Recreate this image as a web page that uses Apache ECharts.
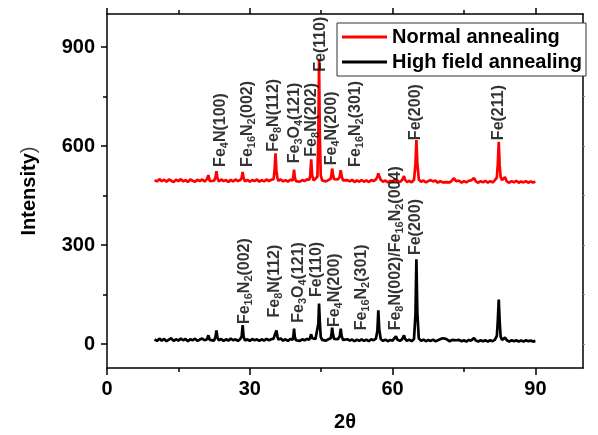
<!DOCTYPE html>
<html>
<head>
<meta charset="utf-8">
<script src="https://cdn.jsdelivr.net/npm/echarts@6.0.0/dist/echarts.min.js"></script>
<style>
html,body{margin:0;padding:0;background:#fff;}
#chart{width:598px;height:435px;}
</style>
</head>
<body>
<div id="chart"></div>
<script>
// 2-theta sampling positions (degrees)
const twoTheta = [
  10, 10.5, 11, 11.5, 12, 12.5, 13, 13.5, 14, 14.5,
  15, 15.5, 16, 16.5, 17, 17.5, 18, 18.5, 19, 19.5,
  20, 20.5, 21, 21.3, 21.6, 22, 22.5, 22.8, 23.0, 23.2,
  23.5, 24, 24.5, 25, 25.5, 26, 26.5, 27, 27.5, 28,
  28.3, 28.5, 28.7, 29, 29.5, 30, 30.5, 31, 31.5, 32,
  32.5, 33, 33.5, 34, 34.5, 35, 35.2, 35.4, 35.6, 35.8,
  36, 36.5, 37, 37.5, 38, 38.5, 39, 39.15, 39.3, 39.45,
  39.7, 40, 40.5, 41, 41.5, 42, 42.5, 42.7, 42.9, 43.1,
  43.4, 43.8, 44.2, 44.4, 44.55, 44.7, 44.9, 45.2, 45.5, 46,
  46.5, 47, 47.15, 47.3, 47.45, 47.7, 48, 48.5, 48.9, 49.1,
  49.3, 49.6, 50, 50.5, 51, 51.5, 52, 52.5, 53, 53.5,
  54, 54.5, 55, 55.5, 56, 56.5, 56.8, 57.0, 57.2, 57.5,
  58, 58.5, 59, 59.5, 60, 60.4, 60.7, 61.0, 61.5, 62,
  62.2, 62.4, 62.6, 63, 63.5, 64, 64.5, 64.8, 65.0, 65.2,
  65.5, 66, 66.5, 67, 67.5, 68, 68.5, 69, 69.5, 70,
  70.5, 70.8, 71.2, 71.5, 72, 72.5, 72.9, 73.3, 73.5, 74,
  74.5, 75, 75.5, 76, 76.5, 77.1, 77.5, 78, 78.5, 79,
  79.5, 80, 80.5, 81, 81.5, 81.9, 82.1, 82.3, 82.5, 82.7,
  83, 83.3, 83.6, 84, 84.5, 85, 85.5, 86, 86.5, 87,
  87.5, 88, 88.5, 89, 89.5, 90
];
// Normal annealing intensity (red)
const normalI = [
  497, 493, 500, 494, 498, 492, 499, 495, 491, 498,
  494, 500, 493, 497, 491, 499, 495, 492, 498, 494,
  499, 493, 500, 512, 494, 498, 495, 506, 524, 503,
  493, 499, 494, 497, 491, 498, 493, 499, 494, 497,
  504, 522, 502, 493, 498, 492, 497, 494, 499, 492,
  497, 493, 499, 494, 498, 500, 526, 578, 524, 504,
  495, 499, 493, 497, 492, 498, 496, 507, 529, 505,
  494, 498, 492, 497, 494, 499, 498, 512, 560, 511,
  496, 500, 507, 630, 860, 640, 512, 496, 499, 493,
  497, 501, 514, 532, 516, 500, 494, 499, 507, 527,
  508, 496, 492, 497, 493, 498, 491, 496, 492, 497,
  492, 496, 491, 497, 494, 499, 507, 517, 509, 498,
  492, 496, 490, 495, 492, 499, 502, 495, 491, 497,
  501, 509, 499, 491, 495, 490, 498, 545, 618, 548,
  499, 492, 496, 490, 494, 497, 493, 496, 489, 494,
  490, 495, 491, 496, 490, 496, 503, 494, 490, 495,
  489, 494, 490, 495, 496, 503, 493, 489, 494, 490,
  495, 489, 494, 490, 497, 505, 545, 613, 540, 506,
  497, 500, 506, 493, 489, 494, 490, 495, 489, 493,
  490, 494, 489, 493, 490, 492
];
// High field annealing intensity (black)
const highFieldI = [
  15, 10, 17, 11, 16, 9, 14, 18, 10, 15,
  11, 17, 12, 16, 9, 15, 12, 17, 10, 14,
  17, 12, 15, 27, 13, 16, 11, 22, 42, 20,
  12, 16, 10, 15, 11, 17, 12, 15, 10, 16,
  24, 58, 22, 11, 15, 10, 16, 12, 15, 10,
  15, 11, 16, 12, 15, 17, 26, 34, 42, 24,
  14, 17, 11, 15, 10, 16, 14, 24, 47, 22,
  12, 16, 10, 15, 12, 16, 14, 19, 30, 18,
  12, 16, 20, 62, 123, 70, 22, 13, 16, 11,
  15, 18, 30, 50, 32, 16, 11, 15, 24, 47,
  24, 13, 10, 15, 11, 14, 9, 14, 10, 15,
  10, 14, 9, 15, 12, 17, 40, 103, 45, 16,
  10, 14, 9, 13, 11, 17, 24, 14, 10, 15,
  19, 27, 17, 10, 14, 9, 16, 90, 257, 95,
  18, 10, 14, 9, 13, 10, 14, 9, 12, 15,
  18, 21, 16, 12, 9, 13, 18, 12, 9, 13,
  9, 12, 8, 13, 11, 19, 11, 8, 12, 9,
  12, 8, 12, 9, 14, 25, 70, 135, 68, 22,
  13, 15, 20, 12, 8, 12, 9, 12, 8, 11,
  8, 12, 9, 11, 8, 10
];
// Peak annotations: "_n" marks a subscript
const redLabelText  = ['Fe_4N(100)', 'Fe_16N_2(002)', 'Fe_8N(112)', 'Fe_3O_4(121)', 'Fe_8N(202)', 'Fe(110)', 'Fe_4N(200)', 'Fe_16N_2(301)', 'Fe(200)', 'Fe(211)'];
const redLabelTheta = [23.9, 29.7, 35.0, 39.5, 43.0, 44.9, 47.2, 52.3, 65.0, 82.4];
const redLabelI     = [537, 537, 583, 548, 568, 825, 542, 537, 618, 618];
const blackLabelText  = ['Fe_16N_2(002)', 'Fe_8N(112)', 'Fe_3O_4(121)', 'Fe(110)', 'Fe_4N(200)', 'Fe_16N_2(301)', 'Fe_8N(002)/Fe_16N_2(004)', 'Fe(200)'];
const blackLabelTheta = [29.0, 35.3, 40.4, 44.1, 47.9, 53.5, 60.7, 65.0];
const blackLabelI     = [61, 81, 65, 143, 52, 42, 42, 270];

const xMajor = [0, 30, 60, 90];
const xMinor = [15, 45, 75];
const yMajor = [0, 300, 600, 900];
const yMinor = [150, 450, 750];
const seriesNames = ['Normal annealing', 'High field annealing'];

if (twoTheta.length !== normalI.length || twoTheta.length !== highFieldI.length) {
  console.error('length mismatch', twoTheta.length, normalI.length, highFieldI.length);
}

const FONT = '"Liberation Sans", Arial, sans-serif';
function toRich(s) {
  return '{n|' + s.replace(/_(\d+)/g, '}{s|$1}{n|') + '}';
}
const rich = {
  n: {fontSize: 16, fontWeight: 'bold', fontFamily: FONT, color: '#000', lineHeight: 17, verticalAlign: 'top'},
  s: {fontSize: 11, fontWeight: 'bold', fontFamily: FONT, color: '#000', lineHeight: 11, padding: [7, 0, 0, 0], verticalAlign: 'top'}
};
function labelSeries(texts, th, ii) {
  const richTexts = texts.map(toRich);
  return {
    type: 'scatter',
    data: th.map((t, i) => [t, ii[i]]),
    symbol: 'circle',
    symbolSize: 0.1,
    itemStyle: {color: 'transparent'},
    silent: true,
    z: 10,
    label: {
      show: true,
      position: 'inside',
      rotate: 90,
      align: 'left',
      verticalAlign: 'middle',
      formatter: p => richTexts[p.dataIndex],
      rich: rich
    }
  };
}

const axisLineStyle = {color: '#000', width: 1.5};
const tickStyle = {color: '#000', width: 1.5};
const chart = echarts.init(document.getElementById('chart'), null, {renderer: 'canvas'});
chart.setOption({
  animation: false,
  backgroundColor: '#fff',
  grid: {left: 107, right: 15, top: 14, bottom: 67, outerBoundsMode: 'none'},
  legend: {
    data: seriesNames,
    orient: 'vertical',
    left: 337, top: 23,
    padding: [3, 4, 3, 5],
    itemGap: 3,
    itemWidth: 45, itemHeight: 3,
    icon: 'rect',
    selectedMode: false,
    backgroundColor: '#fff',
    borderColor: '#333', borderWidth: 1,
    textStyle: {fontSize: 20, fontWeight: 'bold', fontFamily: FONT, color: '#000', lineHeight: 22}
  },
  xAxis: [
    {type: 'value', min: 0, max: 100, position: 'bottom',
     axisLine: {show: true, onZero: false, lineStyle: axisLineStyle},
     axisTick: {show: true, customValues: xMajor, length: 7, lineStyle: tickStyle},
     axisLabel: {customValues: xMajor, margin: 11, fontSize: 20, fontWeight: 'bold', fontFamily: FONT, color: '#000'},
     splitLine: {show: false},
     name: '2θ', nameLocation: 'middle', nameGap: 44,
     nameTextStyle: {fontSize: 20, fontWeight: 'bold', fontFamily: FONT, color: '#000'}},
    {type: 'value', min: 0, max: 100, position: 'bottom',
     axisLine: {show: false, onZero: false},
     axisTick: {show: true, customValues: xMinor, length: 4, lineStyle: tickStyle},
     axisLabel: {show: false}, splitLine: {show: false}},
    {type: 'value', min: 0, max: 100, position: 'top',
     axisLine: {show: true, onZero: false, lineStyle: axisLineStyle},
     axisTick: {show: true, customValues: xMajor, length: 6, lineStyle: tickStyle},
     axisLabel: {show: false}, splitLine: {show: false}},
    {type: 'value', min: 0, max: 100, position: 'top',
     axisLine: {show: false, onZero: false},
     axisTick: {show: true, customValues: xMinor, length: 4, lineStyle: tickStyle},
     axisLabel: {show: false}, splitLine: {show: false}}
  ],
  yAxis: [
    {type: 'value', min: -72, max: 1000, position: 'left',
     axisLine: {show: true, onZero: false, lineStyle: axisLineStyle},
     axisTick: {show: true, customValues: yMajor, length: 6, lineStyle: tickStyle},
     axisLabel: {customValues: yMajor, margin: 12, fontSize: 20, fontWeight: 'bold', fontFamily: FONT, color: '#000'},
     splitLine: {show: false},
     name: '{b|Intensity}{p|)}', nameLocation: 'middle', nameGap: 68, nameRotate: 90,
     nameTextStyle: {rich: {
       b: {fontSize: 20, fontWeight: 'bold', fontFamily: FONT, color: '#000'},
       p: {fontSize: 20, fontWeight: 'normal', fontFamily: FONT, color: '#444'}
     }}},
    {type: 'value', min: -72, max: 1000, position: 'left',
     axisLine: {show: false, onZero: false},
     axisTick: {show: true, customValues: yMinor, length: 4, lineStyle: tickStyle},
     axisLabel: {show: false}, splitLine: {show: false}},
    {type: 'value', min: -72, max: 1000, position: 'right',
     axisLine: {show: true, onZero: false, lineStyle: axisLineStyle},
     axisTick: {show: true, customValues: [0, 150, 300, 450, 600, 750, 900], length: 2, lineStyle: {color: '#888', width: 1}},
     axisLabel: {show: false}, splitLine: {show: false}}
  ],
  series: [
    {name: seriesNames[0], type: 'line', data: twoTheta.map((t, i) => [t, normalI[i]]),
     symbol: 'none', lineStyle: {color: '#ff0000', width: 2.7}, itemStyle: {color: '#ff0000'}, z: 3},
    {name: seriesNames[1], type: 'line', data: twoTheta.map((t, i) => [t, highFieldI[i]]),
     symbol: 'none', lineStyle: {color: '#000', width: 2.7}, itemStyle: {color: '#000'}, z: 3},
    labelSeries(redLabelText, redLabelTheta, redLabelI),
    labelSeries(blackLabelText, blackLabelTheta, blackLabelI)
  ]
});
</script>
</body>
</html>
